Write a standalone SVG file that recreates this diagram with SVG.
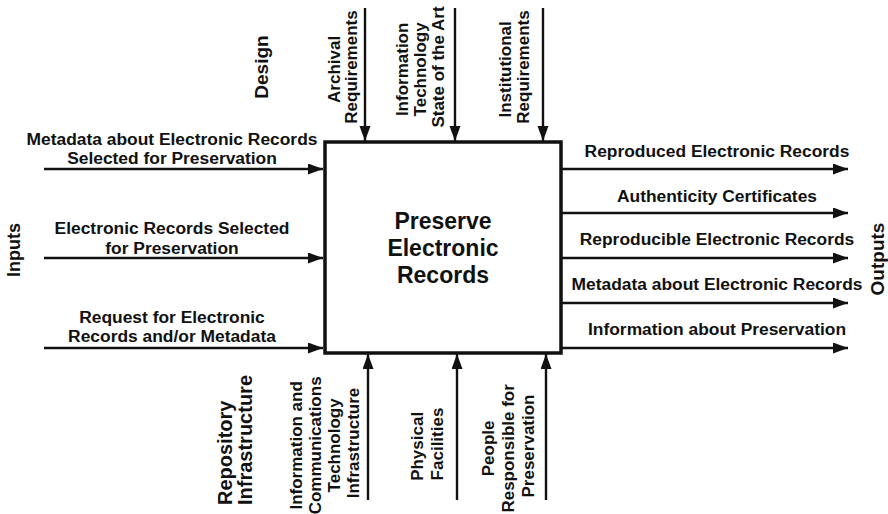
<svg xmlns="http://www.w3.org/2000/svg" width="888" height="514" viewBox="0 0 888 514">
  <style>
    text { font-family: "Liberation Sans", Arial, sans-serif; font-weight: bold; fill: #111; }
    .lbl { font-size: 17.4px; text-anchor: middle; }
    .vlbl { font-size: 17px; text-anchor: middle; }
    .side { font-size: 19px; text-anchor: middle; }
    .title { font-size: 23px; text-anchor: middle; }
    .flow { stroke: #111; stroke-width: 2.4; fill: none; marker-end: url(#head); }
    .box { fill: #fff; stroke: #111; stroke-width: 3.5; }
  </style>
  <defs>
    <marker id="head" markerUnits="userSpaceOnUse" markerWidth="16" markerHeight="12" refX="15" refY="5.5" orient="auto">
      <path d="M0,0 L15,5.5 L0,11 z" fill="#111"/>
    </marker>
  </defs>
  <rect width="888" height="514" fill="#fff"/>

  <!-- connectors -->
  <g id="connectors">
    <!-- inputs -->
    <line class="flow" x1="44" y1="169" x2="323" y2="169"/>
    <line class="flow" x1="44" y1="258" x2="323" y2="258"/>
    <line class="flow" x1="44" y1="348" x2="323" y2="348"/>
    <!-- controls -->
    <line class="flow" x1="365" y1="8" x2="365" y2="141"/>
    <line class="flow" x1="455" y1="8" x2="455" y2="141"/>
    <line class="flow" x1="543" y1="8" x2="543" y2="141"/>
    <!-- mechanisms -->
    <line class="flow" x1="368" y1="500" x2="368" y2="354"/>
    <line class="flow" x1="457" y1="500" x2="457" y2="354"/>
    <line class="flow" x1="546" y1="500" x2="546" y2="354"/>
    <!-- outputs -->
    <line class="flow" x1="562" y1="169" x2="848" y2="169"/>
    <line class="flow" x1="562" y1="213" x2="848" y2="213"/>
    <line class="flow" x1="562" y1="258" x2="848" y2="258"/>
    <line class="flow" x1="562" y1="303" x2="848" y2="303"/>
    <line class="flow" x1="562" y1="348" x2="848" y2="348"/>
  </g>

  <!-- activity -->
  <g id="preserve">
    <rect class="box" x="325" y="142" width="236" height="211"/>
    <text class="title" x="443" y="229">Preserve</text>
    <text class="title" x="443" y="256">Electronic</text>
    <text class="title" x="443" y="283">Records</text>
  </g>

  <!-- inputs -->
  <g id="in-metadata">
    <text class="lbl" x="172" y="145">Metadata about Electronic Records</text>
    <text class="lbl" x="172" y="164">Selected for Preservation</text>
  </g>
  <g id="in-records">
    <text class="lbl" x="172" y="234">Electronic Records Selected</text>
    <text class="lbl" x="172" y="254">for Preservation</text>
  </g>
  <g id="in-request">
    <text class="lbl" x="172" y="323">Request for Electronic</text>
    <text class="lbl" x="172" y="342">Records and/or Metadata</text>
  </g>
  <g id="inputs">
    <text class="side" style="font-size:18px" transform="translate(20,250) rotate(-90)">Inputs</text>
  </g>

  <!-- outputs -->
  <g id="out-reproduced"><text class="lbl" x="717" y="157">Reproduced Electronic Records</text></g>
  <g id="out-certificates"><text class="lbl" x="717" y="202">Authenticity Certificates</text></g>
  <g id="out-reproducible"><text class="lbl" x="717" y="245">Reproducible Electronic Records</text></g>
  <g id="out-metadata"><text class="lbl" x="717" y="290">Metadata about Electronic Records</text></g>
  <g id="out-information"><text class="lbl" x="717" y="335">Information about Preservation</text></g>
  <g id="outputs">
    <text class="side" transform="translate(884,259) rotate(-90)">Outputs</text>
  </g>

  <!-- controls -->
  <g id="design">
    <text class="side" transform="translate(268,67) rotate(-90)">Design</text>
  </g>
  <g id="ctl-archival">
    <text class="vlbl" transform="translate(340,67) rotate(-90)">
      <tspan x="0" y="0">Archival</tspan>
      <tspan x="0" y="17">Requirements</tspan>
    </text>
  </g>
  <g id="ctl-technology">
    <text class="vlbl" transform="translate(408,67) rotate(-90)">
      <tspan x="0" y="0">Information</tspan>
      <tspan x="0" y="18">Technology</tspan>
      <tspan x="0" y="36">State of the Art</tspan>
    </text>
  </g>
  <g id="ctl-institutional">
    <text class="vlbl" transform="translate(511,67) rotate(-90)">
      <tspan x="0" y="0">Institutional</tspan>
      <tspan x="0" y="18">Requirements</tspan>
    </text>
  </g>

  <!-- mechanisms -->
  <g id="repository">
    <text class="side" style="font-size:20px;text-anchor:start" transform="translate(232,505) rotate(-90)">
      <tspan x="0" y="0">Repository</tspan>
      <tspan x="0" y="20">Infrastructure</tspan>
    </text>
  </g>
  <g id="mech-ict">
    <text class="vlbl" transform="translate(302,443) rotate(-90)">
      <tspan x="0" y="0">Information and</tspan>
      <tspan x="0" y="19">Communications</tspan>
      <tspan x="0" y="38">Technology</tspan>
      <tspan x="0" y="57">Infrastructure</tspan>
    </text>
  </g>
  <g id="mech-facilities">
    <text class="vlbl" transform="translate(423,444) rotate(-90)">
      <tspan x="0" y="0">Physical</tspan>
      <tspan x="0" y="20">Facilities</tspan>
    </text>
  </g>
  <g id="mech-people">
    <text class="vlbl" transform="translate(494,446) rotate(-90)">
      <tspan x="0" y="0">People</tspan>
      <tspan x="0" y="20">Responsible for</tspan>
      <tspan x="0" y="40">Preservation</tspan>
    </text>
  </g>
</svg>
